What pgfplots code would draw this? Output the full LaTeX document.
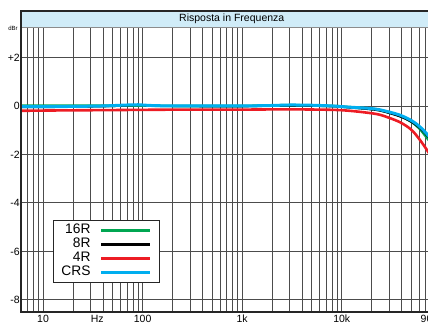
\documentclass[border=0pt]{standalone}
\usepackage{pgfplots}
\pgfplotsset{compat=1.18}
\usepackage{fontspec}
\setmainfont{Liberation Sans}
\definecolor{cgreen}{RGB}{0,166,81}
\definecolor{cred}{RGB}{237,28,36}
\definecolor{cblue}{RGB}{0,174,239}
\definecolor{cbar}{RGB}{208,236,248}
\begin{document}
\begin{tikzpicture}
\useasboundingbox (0pt,0pt) rectangle (428pt,324pt);
\clip (0pt,0pt) rectangle (428pt,324pt);
\begin{scope}[overlay]
\begin{axis}[
  at={(21pt,12pt)}, anchor=south west,
  scale only axis, width=415.7pt, height=301.3pt,
  xmode=log, xmin=6, xmax=90000,
  ymin=-8.5, ymax=3.93,
  xtick={10,100,1000,10000},
  xticklabels={10,100,1k,10k},
  minor xtick={6,7,8,9,20,30,40,50,60,70,80,90,200,300,400,500,600,700,800,900,2000,3000,4000,5000,6000,7000,8000,9000,20000,30000,40000,50000,60000,70000,80000},
  extra x ticks={35},
  extra x tick labels={Hz},
  extra x tick style={grid=none},
  ytick={-8,-6,-4,-2,0,2},
  yticklabels={-8,-6,-4,-2,0,+2},
  major tick length=0pt, minor tick length=0pt,
  grid=both,
  major grid style={black!70, line width=0.9pt},
  minor grid style={black!70, line width=0.9pt},
  axis line style={black!85, line width=1.6pt},
  tick label style={font=\fontsize{10.5}{12}\selectfont},
  xticklabel style={inner sep=1pt, yshift=-2pt},
  yticklabel style={inner sep=1pt},
  legend plot pos=right,
  legend cell align=right,
  legend image code/.code={\draw[#1, line width=3pt] (0pt,0pt) -- (49pt,0pt);},
  legend style={at={(axis description cs:0.077,0.096)}, anchor=south west,
    draw=black!85, line width=0.8pt, fill=white, inner xsep=8pt, inner ysep=4pt,
    font=\fontsize{13.8}{14}\selectfont,
    nodes={inner sep=0pt, text height=9.8pt, text depth=2.7pt},
    row sep=1.5pt, column sep=9pt},
]
\addplot[cgreen, line width=2.6pt, smooth] coordinates {
(6,0.01) (10,0.01) (20,0.01) (50,0.01) (90,0.02) (200,0.0) (500,0.0) (1000,0.0) (3000,0.03) (8000,0.0) (12000,-0.05) (19000,-0.11) (25000,-0.19) (38000,-0.4) (50000,-0.65) (61000,-0.95) (74000,-1.38) (90000,-1.8)};
\addlegendentry{16R}
\addplot[black, line width=1.8pt, smooth] coordinates {
(6,-0.05) (10,-0.05) (20,-0.04) (50,-0.01) (90,0.03) (150,0.0) (500,-0.02) (1000,-0.02) (3000,0.01) (8000,-0.02) (12000,-0.07) (19000,-0.14) (25000,-0.21) (38000,-0.43) (50000,-0.66) (61000,-0.92) (74000,-1.28) (90000,-1.7)};
\addlegendentry{8R}
\addplot[cred, line width=2.6pt, smooth] coordinates {
(6,-0.2) (10,-0.19) (20,-0.18) (50,-0.17) (100,-0.16) (300,-0.15) (1000,-0.15) (3000,-0.14) (8000,-0.16) (12000,-0.2) (19000,-0.29) (25000,-0.38) (38000,-0.66) (50000,-0.98) (61000,-1.4) (74000,-1.9) (90000,-2.5)};
\addlegendentry{4R}
\addplot[cblue, line width=3pt, smooth] coordinates {
(6,-0.03) (10,-0.03) (20,-0.02) (40,0.0) (70,0.04) (90,0.05) (120,0.02) (200,0.0) (500,0.0) (1000,0.0) (2000,0.02) (3000,0.04) (5000,0.03) (8000,0.0) (12000,-0.05) (19000,-0.1) (25000,-0.17) (38000,-0.37) (50000,-0.6) (61000,-0.86) (74000,-1.22) (90000,-1.65)};
\addlegendentry{CRS}
\fill[cbar] (axis description cs:0,1) rectangle (axis description cs:1,0.946);
\draw[black!45, line width=0.8pt] (axis description cs:0,0.946) -- (axis description cs:1,0.946);
\draw[black!85, line width=2pt] (axis description cs:0,1) -- (axis description cs:1,1);
\draw[black!85, line width=1.6pt] (axis description cs:0,0) -- (axis description cs:0,1);
\node[font=\fontsize{10.5}{12}\selectfont] at (axis description cs:0.507,0.973) {Risposta in Frequenza};
\end{axis}
\node[anchor=north west, inner sep=1pt, font=\fontsize{10.5}{12}\selectfont] at (419.5pt,10pt) {90k};
\node[font=\fontsize{6}{7}\selectfont] at (13pt,296pt) {dBr};
\end{scope}
\end{tikzpicture}
\end{document}
